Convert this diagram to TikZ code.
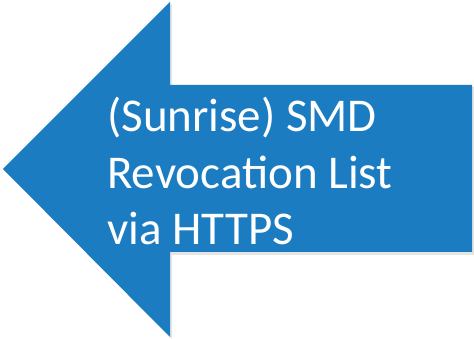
\documentclass[tikz,border=0pt]{standalone}
\usepackage{fontspec}
\setmainfont{Carlito}
\usepackage{tikz}
\usetikzlibrary{positioning}
\definecolor{arrowblue}{RGB}{27,124,193}

\begin{document}
\begin{tikzpicture}[x=1pt, y=-1pt, label/.style={text=white, align=left, anchor=base west, inner sep=0pt, font=\fontsize{47}{56}\selectfont}]

    \useasboundingbox (0, 0) rectangle (474, 339);

    % Shadow
    \fill [black!20, opacity=0.5] (5, 171) -- (172, 4) -- (172, 87) -- (474, 87) -- (474, 255) -- (172, 255) -- (172, 339) -- cycle;

    % Arrow
    \fill [arrowblue] (3, 169) -- (170, 2) -- (170, 85) -- (472, 85) -- (472, 252) -- (170, 252) -- (170, 337) -- cycle;

    % Text (anchored on the last line)
    \node at (107, 244) [label] (txt) {(Sunrise) SMD\\Revocation List\\via HTTPS};

\end{tikzpicture}
\end{document}
